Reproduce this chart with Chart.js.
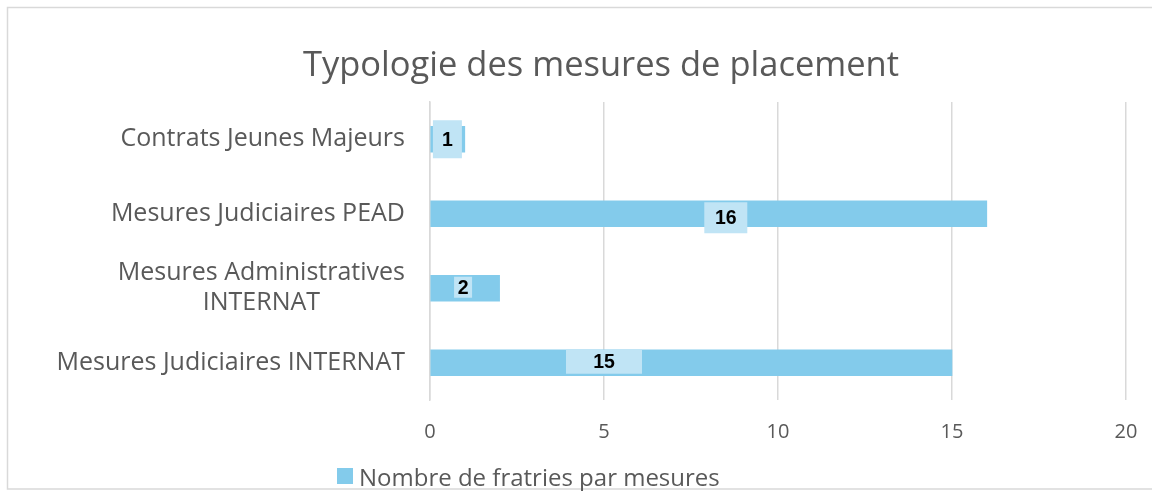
<!DOCTYPE html>
<html>
<head>
<meta charset="utf-8">
<script src="https://cdn.jsdelivr.net/npm/chart.js@4"></script>
<style>
  html, body { margin: 0; padding: 0; background: #fff; }
</style>
</head>
<body>
<canvas id="chart" width="1152" height="491"></canvas>
<script>
const categories = [
    'Contrats Jeunes Majeurs',
    'Mesures Judiciaires PEAD',
    ['Mesures Administratives', 'INTERNAT'],
    'Mesures Judiciaires INTERNAT'
];
const counts = [1, 16, 2, 15];
const seriesName = 'Nombre de fratries par mesures';
const chartTitle = 'Typologie des mesures de placement';
const xTicks = [0, 5, 10, 15, 20];

// where the value labels sit (in axis units) and the look of their boxes
const labelAt = [0.5, 8.5, 0.95, 5];
const labelBoxW = [29, 43, 18, 76];
const labelBoxH = [38, 31, 21, 24];
const labelDy = [0, 4, -1, -1];

const textGrey = '#595959';
const barBlue = '#83cbeb';
const boxBlue = '#c0e4f5';
const gridGrey = '#d9d9d9';

const framePlugin = {
    id: 'frame',
    beforeDraw(chart) {
        const ctx = chart.ctx;
        ctx.save();
        ctx.strokeStyle = gridGrey;
        ctx.lineWidth = 1.5;
        ctx.strokeRect(7.5, 7.5, 1170, 481.5);
        ctx.restore();
    }
};

// title, category labels and legend drawn by hand to sit where the original has them
const textPlugin = {
    id: 'texts',
    afterDraw(chart) {
        const ctx = chart.ctx;
        const y = chart.scales.y;
        ctx.save();
        ctx.fillStyle = textGrey;
        ctx.textBaseline = 'middle';

        ctx.font = '34.5px "Open Sans"';
        ctx.textAlign = 'center';
        ctx.fillText(chartTitle, 601, 66);

        ctx.font = '25px "Open Sans"';
        const right = 405;
        categories.forEach((lab, i) => {
            const cy = y.getPixelForTick(i);
            const lines = Array.isArray(lab) ? lab : [lab];
            const w = Math.max(...lines.map(l => ctx.measureText(l).width));
            lines.forEach((l, j) => {
                ctx.fillText(l, right - w / 2, cy + (j - (lines.length - 1) / 2) * 30);
            });
        });

        ctx.fillStyle = barBlue;
        ctx.fillRect(337, 468, 16, 16);
        ctx.fillStyle = textGrey;
        ctx.font = '24px "Open Sans"';
        ctx.textAlign = 'left';
        ctx.fillText(seriesName, 359, 479);
        ctx.restore();
    }
};

const valueLabels = {
    id: 'valueLabels',
    afterDatasetsDraw(chart) {
        const ctx = chart.ctx;
        const x = chart.scales.x;
        const meta = chart.getDatasetMeta(0);
        ctx.save();
        ctx.font = 'bold 19.5px "Liberation Sans"';
        ctx.textAlign = 'center';
        ctx.textBaseline = 'middle';
        meta.data.forEach((bar, i) => {
            const cx = x.getPixelForValue(labelAt[i]);
            const cy = bar.y + labelDy[i];
            const w = labelBoxW[i];
            const h = labelBoxH[i];
            ctx.fillStyle = boxBlue;
            ctx.fillRect(cx - w / 2, cy - h / 2, w, h);
            ctx.fillStyle = '#000';
            ctx.fillText(String(counts[i]), cx, cy + 1);
        });
        ctx.restore();
    }
};

new Chart(document.getElementById('chart'), {
    type: 'bar',
    data: {
        labels: categories,
        datasets: [{
            label: seriesName,
            data: counts,
            backgroundColor: barBlue,
            borderWidth: 0,
            barThickness: 26
        }]
    },
    options: {
        indexAxis: 'y',
        responsive: false,
        animation: false,
        layout: { padding: { left: 0, right: 26, top: 102, bottom: 47 } },
        scales: {
            x: {
                min: 0,
                max: 20,
                afterBuildTicks(scale) {
                    scale.ticks = xTicks.map(v => ({ value: v }));
                },
                grid: {
                    color: gridGrey,
                    lineWidth: 1.5,
                    drawTicks: true,
                    tickLength: 20,
                    tickColor: 'rgba(0,0,0,0)'
                },
                border: { display: false },
                ticks: {
                    color: textGrey,
                    font: { family: 'Open Sans', size: 20 },
                    padding: 0
                }
            },
            y: {
                afterFit(scale) { scale.width = 430; },
                grid: { display: false },
                border: { color: gridGrey, width: 1.5 },
                ticks: { display: false }
            }
        },
        plugins: {
            title: { display: false },
            legend: { display: false },
            tooltip: { enabled: false }
        }
    },
    plugins: [framePlugin, textPlugin, valueLabels]
});
</script>
</body>
</html>
